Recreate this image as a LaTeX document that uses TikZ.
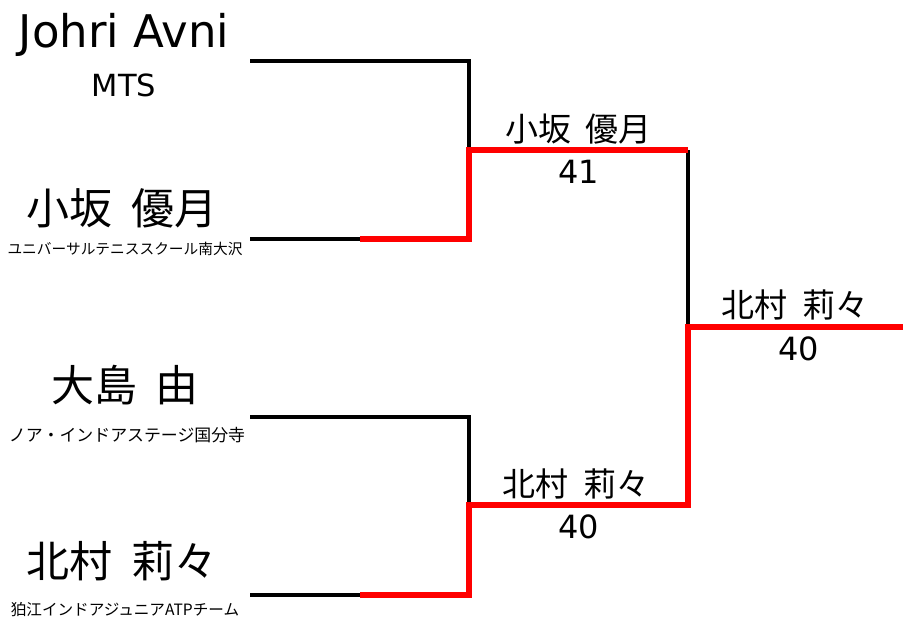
\documentclass[tikz,border=0pt]{standalone}
\usepackage{fontspec}
\setmainfont{DejaVu Sans}
\newfontfamily\cjk{Noto Sans CJK JP}
\begin{document}
\begin{tikzpicture}[x=1pt,y=-1pt,
  base/.style={line width=3.5pt,black,line join=miter,line cap=butt},
  win/.style={line width=6.5pt,red,line join=miter,line cap=butt},
  lbl/.style={inner sep=0pt,outer sep=0pt,text=black},
  bigname/.style={lbl,font=\cjk\fontsize{43}{43}\selectfont},
  midname/.style={lbl,font=\cjk\fontsize{33}{33}\selectfont},
  score/.style={lbl,anchor=base,font=\fontsize{32}{32}\selectfont}]
\useasboundingbox (0,0) rectangle (903,619);
% coordinates
\coordinate (p1s) at (250,61);  \coordinate (p1e) at (469,61);
\coordinate (p2s) at (250,239); \coordinate (p2m) at (360,239); \coordinate (p2e) at (469,239);
\coordinate (p3s) at (250,417); \coordinate (p3e) at (469,417);
\coordinate (p4s) at (250,595); \coordinate (p4m) at (360,595); \coordinate (p4e) at (469,595);
\coordinate (s1s) at (469,150); \coordinate (s1e) at (688,150);
\coordinate (s2s) at (469,505); \coordinate (s2e) at (688,505);
\coordinate (fs) at (688,327);  \coordinate (fe) at (903,327);
% black lines
\draw[base] (p1s) -- (p1e) -- (s1s);
\draw[base] (p2s) -- (p2m);
\draw[base] (p3s) -- (p3e) -- (s2s);
\draw[base] (p4s) -- (p4m);
\draw[base] (s1e) -- (fs);
% red winner paths
\draw[win] (p2m) -- (p2e) -- (s1s) -- (s1e);
\draw[win] (p4m) -- (p4e) -- (s2s) -- (s2e) -- (fs) -- (fe);
% player labels
\node[lbl,anchor=base,font=\fontsize{45}{45}\selectfont] (n1) at (124,47) {Johri Avni};
\node[lbl,anchor=base,font=\fontsize{30.5}{30.5}\selectfont] (c1) at (124,96) {MTS};
\node[bigname] (n2) at (122,208.5) {小坂\hspace{0.44em}優月};
\node[lbl,font=\cjk\fontsize{14.7}{14.7}\selectfont] (c2) at (125,249) {ユニバーサルテニススクール南大沢};
\node[bigname] (n3) at (125,385) {大島\hspace{0.44em}由};
\node[lbl,font=\cjk\fontsize{16.9}{16.9}\selectfont] (c3) at (127,435) {ノア・インドアステージ国分寺};
\node[bigname] (n4) at (122,561.5) {北村\hspace{0.44em}莉々};
\node[lbl,font=\cjk\fontsize{15.6}{15.6}\selectfont] (c4) at (125,610) {狛江インドアジュニアATPチーム};
% round 2
\node[midname] (m1) at (578.5,129) {小坂\hspace{0.44em}優月};
\node[score] (r1) at (579,183) {41};
\node[midname] (m2) at (576,484) {北村\hspace{0.44em}莉々};
\node[score] (r2) at (579,538) {40};
% final
\node[midname] (f1) at (795,305) {北村\hspace{0.44em}莉々};
\node[score] (r3) at (799,360) {40};
\end{tikzpicture}
\end{document}
